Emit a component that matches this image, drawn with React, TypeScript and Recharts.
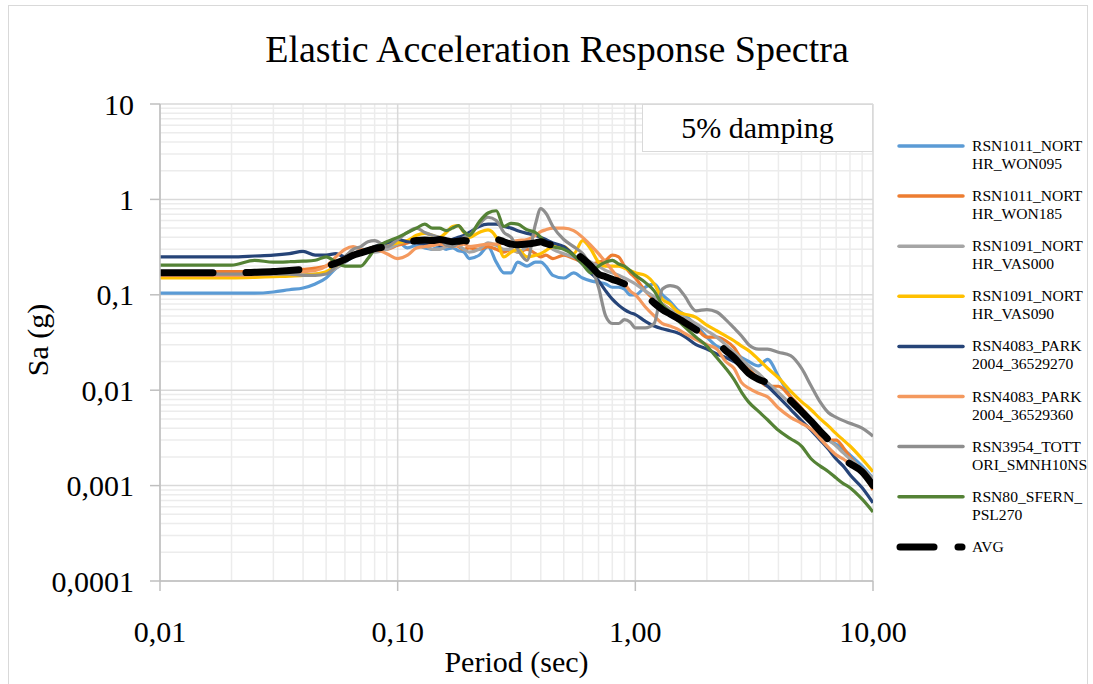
import React from 'react';
import { LineChart, Line, XAxis, YAxis, CartesianGrid, Label } from 'recharts';

// Periods (sec)
const periods = [
  0.01, 0.015, 0.02, 0.025, 0.03, 0.035, 0.04, 0.045, 0.05, 0.055, 0.06, 0.065, 0.07, 0.075, 0.08, 0.09,
  0.1, 0.11, 0.12, 0.13, 0.14, 0.15, 0.16, 0.17, 0.18, 0.19, 0.2, 0.22, 0.24, 0.26, 0.28, 0.3,
  0.32, 0.35, 0.38, 0.4, 0.42, 0.45, 0.5, 0.55, 0.6, 0.65, 0.7, 0.75, 0.8, 0.85, 0.9, 0.95,
  1.0, 1.1, 1.2, 1.3, 1.4, 1.5, 1.6, 1.8, 2.0, 2.2, 2.4, 2.6, 2.8, 3.0, 3.3, 3.6, 4.0, 4.5,
  5.0, 5.5, 6.0, 6.5, 7.0, 7.5, 8.0, 9.0, 10.0,
];

const won095 = [
  0.104, 0.104, 0.104, 0.104, 0.107, 0.113, 0.118, 0.13, 0.15, 0.19, 0.22, 0.25, 0.27, 0.28, 0.3, 0.33,
  0.36, 0.31, 0.33, 0.31, 0.3, 0.32, 0.3, 0.31, 0.29, 0.28, 0.24, 0.26, 0.32, 0.22, 0.17, 0.17,
  0.22, 0.2, 0.22, 0.22, 0.2, 0.16, 0.15, 0.17, 0.15, 0.14, 0.135, 0.13, 0.12, 0.12, 0.115, 0.1,
  0.1, 0.12, 0.13, 0.1, 0.085, 0.07, 0.062, 0.048, 0.036, 0.029, 0.027, 0.025, 0.022, 0.02, 0.018, 0.021, 0.014, 0.0085,
  0.006, 0.0045, 0.0037, 0.003, 0.0027, 0.0024, 0.0021, 0.0016, 0.0012,
];

const won185 = [
  0.175, 0.175, 0.175, 0.175, 0.178, 0.18, 0.185, 0.19, 0.2, 0.22, 0.25, 0.27, 0.28, 0.3, 0.3, 0.3,
  0.33, 0.35, 0.38, 0.36, 0.33, 0.35, 0.33, 0.35, 0.32, 0.3, 0.31, 0.3, 0.32, 0.3, 0.28, 0.3,
  0.28, 0.3, 0.27, 0.25, 0.26, 0.24, 0.26, 0.24, 0.22, 0.21, 0.22, 0.23, 0.26, 0.25, 0.2, 0.17,
  0.15, 0.11, 0.09, 0.08, 0.07, 0.06, 0.055, 0.045, 0.036, 0.036, 0.033, 0.028, 0.021, 0.017, 0.013, 0.011, 0.011, 0.0085,
  0.0065, 0.0048, 0.0035, 0.003, 0.003, 0.0025, 0.002, 0.0014, 0.0009,
];

const vas000 = [
  0.16, 0.16, 0.16, 0.16, 0.16, 0.16, 0.162, 0.165, 0.17, 0.19, 0.22, 0.26, 0.3, 0.3, 0.28, 0.3,
  0.34, 0.37, 0.35, 0.33, 0.3, 0.3, 0.32, 0.36, 0.33, 0.3, 0.28, 0.3, 0.35, 0.33, 0.3, 0.3,
  0.28, 0.32, 0.35, 0.36, 0.34, 0.3, 0.27, 0.25, 0.24, 0.22, 0.2, 0.18, 0.17, 0.16, 0.15, 0.14,
  0.13, 0.11, 0.095, 0.08, 0.07, 0.063, 0.058, 0.05, 0.042, 0.036, 0.03, 0.025, 0.021, 0.018, 0.015, 0.012, 0.0095, 0.0072,
  0.0057, 0.0045, 0.0036, 0.003, 0.0026, 0.0022, 0.0019, 0.0015, 0.0012,
];

const vas090 = [
  0.15, 0.15, 0.15, 0.152, 0.155, 0.157, 0.16, 0.165, 0.175, 0.2, 0.23, 0.26, 0.28, 0.3, 0.32, 0.33,
  0.35, 0.37, 0.42, 0.44, 0.42, 0.4, 0.45, 0.52, 0.53, 0.45, 0.4, 0.45, 0.48, 0.4, 0.25, 0.28,
  0.3, 0.25, 0.26, 0.27, 0.29, 0.32, 0.32, 0.27, 0.37, 0.3, 0.22, 0.2, 0.2, 0.2, 0.19, 0.18,
  0.17, 0.16, 0.13, 0.09, 0.08, 0.067, 0.063, 0.058, 0.048, 0.042, 0.037, 0.033, 0.029, 0.026, 0.021, 0.017, 0.0135, 0.0098,
  0.0076, 0.0062, 0.005, 0.0042, 0.0035, 0.003, 0.0026, 0.0019, 0.0014,
];

const park270 = [
  0.25, 0.25, 0.25, 0.255, 0.26, 0.27, 0.285, 0.26, 0.26, 0.27, 0.25, 0.26, 0.28, 0.3, 0.32, 0.35,
  0.38, 0.36, 0.35, 0.34, 0.36, 0.33, 0.35, 0.38, 0.4, 0.42, 0.45, 0.52, 0.55, 0.55, 0.52, 0.5,
  0.47, 0.44, 0.42, 0.4, 0.38, 0.35, 0.32, 0.26, 0.21, 0.17, 0.14, 0.11, 0.09, 0.078, 0.07, 0.065,
  0.062, 0.053, 0.047, 0.044, 0.042, 0.04, 0.037, 0.03, 0.027, 0.024, 0.022, 0.02, 0.018, 0.0155, 0.013, 0.011, 0.0085, 0.0063,
  0.0048, 0.0038, 0.003, 0.0024, 0.0019, 0.0016, 0.0013, 0.00095, 0.00066,
];

const park360 = [
  0.16, 0.16, 0.16, 0.162, 0.165, 0.17, 0.175, 0.18, 0.2, 0.25, 0.3, 0.32, 0.3, 0.29, 0.3, 0.27,
  0.24, 0.26, 0.31, 0.32, 0.33, 0.34, 0.33, 0.32, 0.33, 0.34, 0.32, 0.33, 0.34, 0.34, 0.35, 0.36,
  0.37, 0.38, 0.42, 0.46, 0.48, 0.5, 0.5, 0.47, 0.4, 0.33, 0.27, 0.22, 0.18, 0.15, 0.13, 0.11,
  0.1, 0.075, 0.06, 0.05, 0.047, 0.044, 0.04, 0.034, 0.03, 0.027, 0.02, 0.017, 0.012, 0.0105, 0.0093, 0.0085, 0.0065, 0.0052,
  0.0045, 0.0039, 0.0031, 0.0025, 0.0021, 0.0019, 0.0017, 0.0015, 0.00095,
];

const tottori = [
  0.165, 0.165, 0.165, 0.165, 0.165, 0.165, 0.16, 0.16, 0.165, 0.2, 0.25, 0.3, 0.32, 0.36, 0.37, 0.32,
  0.38, 0.45, 0.5, 0.45, 0.42, 0.4, 0.33, 0.32, 0.35, 0.4, 0.42, 0.55, 0.65, 0.6, 0.45, 0.4,
  0.3, 0.23, 0.55, 0.8, 0.72, 0.52, 0.38, 0.32, 0.27, 0.2, 0.12, 0.06, 0.05, 0.05, 0.055, 0.052,
  0.045, 0.045, 0.05, 0.115, 0.125, 0.12, 0.1, 0.068, 0.07, 0.066, 0.055, 0.045, 0.037, 0.03, 0.027, 0.027, 0.025, 0.023,
  0.017, 0.011, 0.0075, 0.0058, 0.0052, 0.0048, 0.0045, 0.004, 0.0033,
];

const psl270 = [
  0.205, 0.205, 0.205, 0.23, 0.22, 0.222, 0.225, 0.23, 0.25, 0.22, 0.2, 0.2, 0.2, 0.24, 0.3, 0.36,
  0.4, 0.45, 0.5, 0.55, 0.5, 0.5, 0.47, 0.5, 0.53, 0.46, 0.42, 0.58, 0.72, 0.76, 0.52, 0.56,
  0.55, 0.48, 0.45, 0.4, 0.35, 0.32, 0.3, 0.26, 0.21, 0.17, 0.2, 0.22, 0.23, 0.21, 0.2, 0.18,
  0.16, 0.135, 0.11, 0.078, 0.066, 0.055, 0.047, 0.036, 0.029, 0.022, 0.017, 0.013, 0.0095, 0.0075, 0.006, 0.0049, 0.0038, 0.0031,
  0.0026, 0.0019, 0.0016, 0.0014, 0.0012, 0.00105, 0.00095, 0.00072, 0.00053,
];

const avg = [
  0.17, 0.17, 0.17, 0.172, 0.175, 0.18, 0.185, 0.19, 0.2, 0.215, 0.235, 0.26, 0.275, 0.29, 0.305, 0.32,
  0.34, 0.355, 0.37, 0.375, 0.37, 0.38, 0.37, 0.36, 0.365, 0.37, 0.36, 0.35, 0.37, 0.38, 0.36, 0.34,
  0.335, 0.34, 0.35, 0.36, 0.345, 0.33, 0.32, 0.28, 0.24, 0.2, 0.165, 0.155, 0.145, 0.138, 0.13, 0.122,
  0.115, 0.1, 0.082, 0.07, 0.063, 0.057, 0.052, 0.043, 0.037, 0.032, 0.026, 0.022, 0.018, 0.015, 0.013, 0.012, 0.0105, 0.0078,
  0.006, 0.0047, 0.0037, 0.003, 0.0023, 0.0019, 0.0017, 0.0014, 0.001,
];

const seriesNames = [
  'RSN1011_NORTHR_WON095',
  'RSN1011_NORTHR_WON185',
  'RSN1091_NORTHR_VAS000',
  'RSN1091_NORTHR_VAS090',
  'RSN4083_PARK2004_36529270',
  'RSN4083_PARK2004_36529360',
  'RSN3954_TOTTORI_SMNH10NS',
  'RSN80_SFERN_PSL270',
];
const seriesColors = ['#5B9BD5', '#ED7D31', '#A5A5A5', '#FFC000', '#264478', '#F4995E', '#8E8E8E', '#548235'];
const seriesValues = [won095, won185, vas000, vas090, park270, park360, tottori, psl270];
const avgName = 'AVG';

const xTicks = [0.01, 0.1, 1, 10];
const xTickLabels = ['0,01', '0,10', '1,00', '10,00'];
const yTicks = [0.0001, 0.001, 0.01, 0.1, 1, 10];
const yTickLabels = ['0,0001', '0,001', '0,01', '0,1', '1', '10'];

const title = 'Elastic Acceleration Response Spectra';
const xTitle = 'Period (sec)';
const yTitle = 'Sa (g)';
const noteText = '5% damping';

const minorSteps = [2, 3, 4, 5, 6, 7, 8, 9];
const minorX = [0.01, 0.1, 1].flatMap((d) => minorSteps.map((k) => +(d * k).toPrecision(3)));
const minorY = [0.0001, 0.001, 0.01, 0.1, 1].flatMap((d) => minorSteps.map((k) => +(d * k).toPrecision(3)));

const data = periods.map((T, i) => {
  const row: Record<string, number> = { T, avg: avg[i] };
  seriesValues.forEach((vals, j) => {
    row['s' + j] = vals[i];
  });
  return row;
});

const FONT = '"Liberation Serif", "Times New Roman", serif';

function splitName(n: string): string[] {
  return n.length > 12 ? [n.slice(0, 12), n.slice(12)] : [n];
}

export default function App() {
  return (
    <div style={{ position: 'absolute', left: 0, top: 0, width: 1093, height: 684, background: '#fff', overflow: 'hidden', fontFamily: FONT }}>
      <div style={{ position: 'absolute', left: 8, top: 5, width: 1080, height: 700, border: '1px solid #d9d9d9', boxSizing: 'border-box' }} />
      <div style={{ position: 'absolute', left: 157, top: 30, width: 800, textAlign: 'center', fontSize: 38, lineHeight: '38px', color: '#000' }}>{title}</div>
      <div style={{ position: 'absolute', left: 0, top: 0 }}>
        <LineChart width={1093} height={684} data={data} margin={{ top: 104, right: 220, bottom: 0, left: 0 }}>
          <CartesianGrid verticalValues={minorX} horizontalValues={minorY} stroke="#ececec" strokeWidth={1.5} />
          <CartesianGrid verticalValues={xTicks} horizontalValues={yTicks} stroke="#d9d9d9" strokeWidth={1.5} />
          <XAxis
            dataKey="T"
            type="number"
            scale="log"
            domain={[0.01, 10]}
            ticks={xTicks}
            interval={0}
            tickFormatter={(v: number) => xTickLabels[xTicks.indexOf(v)] ?? String(v)}
            height={103}
            tickSize={10}
            tickMargin={30}
            axisLine={{ stroke: '#bfbfbf', strokeWidth: 1.5 }}
            tickLine={{ stroke: '#bfbfbf', strokeWidth: 1.5 }}
            tick={{ fill: '#000', fontSize: 30, fontFamily: FONT }}
            allowDataOverflow
          >
            <Label
              content={(props: any) => {
                const vb = props.viewBox || { x: 160, width: 713 };
                return (
                  <text x={vb.x + vb.width / 2} y={672} textAnchor="middle" fontSize={30} fontFamily={FONT} fill="#000">
                    {xTitle}
                  </text>
                );
              }}
            />
          </XAxis>
          <YAxis
            type="number"
            scale="log"
            domain={[0.0001, 10]}
            ticks={yTicks}
            interval={0}
            tickFormatter={(v: number) => yTickLabels[yTicks.indexOf(v)] ?? String(v)}
            width={160}
            tickSize={10}
            tickMargin={16}
            axisLine={{ stroke: '#bfbfbf', strokeWidth: 1.5 }}
            tickLine={{ stroke: '#bfbfbf', strokeWidth: 1.5 }}
            tick={{ fill: '#000', fontSize: 30, fontFamily: FONT }}
            allowDataOverflow
          >
            <Label
              content={() => (
                <text x={48} y={340} transform="rotate(-90 48 340)" textAnchor="middle" fontSize={30} fontFamily={FONT} fill="#000">
                  {yTitle}
                </text>
              )}
            />
          </YAxis>
          {seriesValues.map((_, j) => (
            <Line
              key={seriesNames[j]}
              name={seriesNames[j]}
              dataKey={'s' + j}
              type="monotone"
              stroke={seriesColors[j]}
              strokeWidth={3.2}
              dot={false}
              activeDot={false}
              isAnimationActive={false}
            />
          ))}
          <Line
            name={avgName}
            dataKey="avg"
            type="monotone"
            stroke="#000"
            strokeWidth={7}
            strokeDasharray="53 33"
            strokeLinecap="round"
            dot={false}
            activeDot={false}
            isAnimationActive={false}
          />
        </LineChart>
      </div>
      <div
        style={{
          position: 'absolute', left: 642, top: 104, width: 231, height: 48, background: '#fff',
          border: '1px solid #d9d9d9', boxSizing: 'border-box', display: 'flex', alignItems: 'center',
          justifyContent: 'center', fontSize: 30, color: '#000',
        }}
      >
        {noteText}
      </div>
      <svg style={{ position: 'absolute', left: 0, top: 0 }} width={1093} height={684} pointerEvents="none">
        {seriesNames.map((n, i) => {
          const y = 146 + 50.1 * i;
          const parts = splitName(n);
          return (
            <g key={n}>
              <line x1={899} x2={963} y1={y} y2={y} stroke={seriesColors[i]} strokeWidth={3.5} strokeLinecap="round" />
              {parts.map((p, k) => (
                <text key={k} x={972} y={y + 18 * k + 5} fontSize={15.6} fontFamily={FONT} fill="#000">
                  {p}
                </text>
              ))}
            </g>
          );
        })}
        <g>
          <line x1={900} x2={934} y1={547} y2={547} stroke="#000" strokeWidth={7} strokeLinecap="round" />
          <line x1={958} x2={962} y1={547} y2={547} stroke="#000" strokeWidth={7} strokeLinecap="round" />
          <text x={972} y={552} fontSize={15.6} fontFamily={FONT} fill="#000">{avgName}</text>
        </g>
      </svg>
    </div>
  );
}
